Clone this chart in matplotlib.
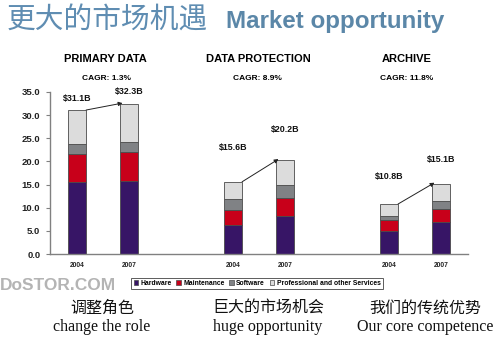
import numpy as np
import matplotlib
matplotlib.use("Agg")
import matplotlib.pyplot as plt
from matplotlib.patches import Patch

plt.rcParams['font.family'] = ['Liberation Sans', 'Noto Sans CJK SC', 'DejaVu Sans']

# ------------------------
# Data (billions USD)
# ------------------------
groups = ["PRIMARY DATA", "DATA PROTECTION", "ARCHIVE"]
cagr = ["CAGR: 1.3%", "CAGR: 8.9%", "CAGR: 11.8%"]
years = ["2004", "2007", "2004", "2007", "2004", "2007"]
hardware = [15.5, 15.7, 6.3, 8.2, 5.0, 6.9]
maintenance = [6.2, 6.3, 3.2, 3.8, 2.3, 2.8]
software = [2.0, 2.2, 2.4, 3.0, 0.9, 1.7]
services = [7.4, 8.1, 3.7, 5.2, 2.6, 3.7]
totals = [31.1, 32.3, 15.6, 20.2, 10.8, 15.1]
segments = ["Hardware", "Maintenance", "Software", "Professional and other Services"]
bottom_cn = ["调整角色", "巨大的市场机会", "我们的传统优势"]
bottom_en = ["change the role", "huge opportunity", "Our core competence"]

colors = ["#371566", "#c8001a", "#808285", "#dcdcdc"]
xpos = np.array([0, 1, 3, 4, 6, 7])
width = 0.35
label_y = [33.5, 35.2, 23.1, 26.8, 16.8, 20.5]

fig = plt.figure(figsize=(5, 3.39), dpi=100)
ax = fig.add_axes([0.1, 0.2507, 0.836, 0.478])

# stacked bars
bottom = np.zeros(len(xpos))
for vals, col, name in zip([hardware, maintenance, software, services], colors, segments):
    ax.bar(xpos, vals, width, bottom=bottom, color=col, edgecolor="#4a4a4a",
           linewidth=0.6, label=name, zorder=2)
    bottom += np.array(vals)

# totals and growth arrows
for i, (x, t) in enumerate(zip(xpos, totals)):
    ax.text(x, label_y[i], f"${t:.1f}B", ha="center", va="center",
            fontsize=6.4, fontweight="bold", color="#111111", clip_on=False)
for i in range(0, len(xpos), 2):
    ax.annotate("", xy=(xpos[i + 1] - width / 2 + 0.05, totals[i + 1] + 0.3),
                xytext=(xpos[i] + width / 2, totals[i]),
                arrowprops=dict(arrowstyle="-|>", lw=0.7, color="#222222",
                                mutation_scale=6, shrinkA=0, shrinkB=0),
                annotation_clip=False)

ax.set_xlim(-0.52, 7.52)
ax.set_ylim(0, 35)
ax.set_yticks(np.arange(0, 36, 5))
ax.yaxis.set_major_formatter(matplotlib.ticker.FormatStrFormatter("%.1f"))
ax.set_xticks(xpos)
ax.set_xticklabels(years)
ax.tick_params(axis="y", labelsize=6.8, length=3, width=0.8, color="#808080", pad=4)
ax.tick_params(axis="x", labelsize=4.8, length=0, pad=6)
for lab in ax.get_xticklabels() + ax.get_yticklabels():
    lab.set_fontweight("bold")
    lab.set_color("#222222")
for s in ["top", "right"]:
    ax.spines[s].set_visible(False)
for s in ["left", "bottom"]:
    ax.spines[s].set_color("#808080")
    ax.spines[s].set_linewidth(1.0)

# legend
handles = [Patch(facecolor=c, edgecolor="#4a4a4a", linewidth=0.5) for c in colors]
leg = fig.legend(handles, segments, loc="center", bbox_to_anchor=(0.514, 0.1637),
                 ncol=4, fontsize=4.9, frameon=True, fancybox=False,
                 handlelength=0.7, handleheight=0.7, handletextpad=0.3,
                 columnspacing=0.7, borderpad=0.35, borderaxespad=0)
leg.get_frame().set_edgecolor("#333333")
leg.get_frame().set_linewidth(0.7)
for t in leg.get_texts():
    t.set_fontweight("bold")

# group headings
for x, g in zip([0.21, 0.516, 0.814], groups):
    fig.text(x, 0.826, g, ha="center", va="center", fontsize=8, fontweight="bold")
for x, c in zip([0.214, 0.514, 0.814], cagr):
    fig.text(x, 0.767, c, ha="center", va="center", fontsize=6, fontweight="bold")

# page title
fig.text(0.014, 0.917, "更大的市场机遇", ha="left", va="baseline", fontsize=20.7,
         family=["Noto Sans CJK SC"], fontweight="light", color="#5f8db2")
fig.text(0.453, 0.917, "Market opportunity", ha="left", va="baseline", fontsize=17.4,
         fontweight="bold", color="#5b87a8")

# watermark
fig.text(0.0, 0.159, "DoSTOR.COM", ha="left", va="center", fontsize=12.5,
         fontweight="bold", color="#b4b4b4")

# bottom captions
for x, cn, en in zip([0.204, 0.536, 0.85], bottom_cn, bottom_en):
    fig.text(x, 0.0914, cn, ha="center", va="center", fontsize=11.5,
             family=["Noto Sans CJK SC"], color="#111111")
    fig.text(x, 0.035, en, ha="center", va="center", fontsize=11.5,
             family=["Liberation Serif"], color="#111111")

fig.savefig("out.png", dpi=100)
